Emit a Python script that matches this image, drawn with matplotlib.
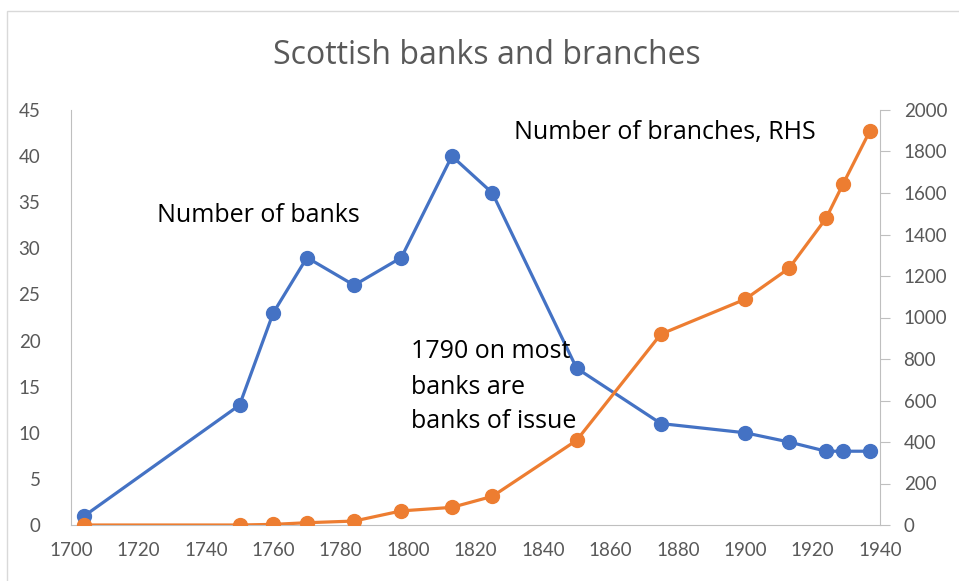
import matplotlib
matplotlib.use("Agg")
import matplotlib.pyplot as plt
from matplotlib.patches import Rectangle

plt.rcParams['font.family'] = ['Lato', 'DejaVu Sans']

years = [1704, 1750, 1760, 1770, 1784, 1798, 1813, 1825, 1850, 1875, 1900, 1913, 1924, 1929, 1937]
banks = [1, 13, 23, 29, 26, 29, 40, 36, 17, 11, 10, 9, 8, 8, 8]
branches = [0, 0, 3, 11, 19, 68, 85, 138, 408, 920, 1088, 1237, 1478, 1642, 1899]

blue = '#4472C4'
orange = '#ED7D31'
grey_txt = '#595959'
grey_ax = '#BFBFBF'

fig = plt.figure(figsize=(9.59, 5.81), dpi=100)
ax = fig.add_axes([71/959, 56/581, 809/959, 415/581])
ax2 = ax.twinx()

ax.plot(years, banks, color=blue, lw=2.3, marker='o', ms=10, zorder=3)
ax2.plot(years, branches, color=orange, lw=2.3, marker='o', ms=10, zorder=3)

ax.set_xlim(1700, 1940)
ax.set_ylim(0, 45)
ax2.set_ylim(0, 2000)
ax.set_xticks(range(1700, 1941, 20))
ax.set_yticks(range(0, 46, 5))
ax2.set_yticks(range(0, 2001, 200))

for a in (ax, ax2):
    for s in a.spines.values():
        s.set_visible(False)
ax.spines['left'].set_visible(True)
ax.spines['left'].set_color(grey_ax)
ax.spines['bottom'].set_visible(True)
ax.spines['bottom'].set_color(grey_ax)
ax2.spines['right'].set_visible(True)
ax2.spines['right'].set_color(grey_ax)

ax.tick_params(axis='x', length=0, pad=12, labelsize=13.5, labelcolor=grey_txt)
ax.tick_params(axis='y', length=0, pad=22, labelsize=13.5, labelcolor=grey_txt)
ax2.tick_params(axis='y', length=7, color=grey_ax, pad=10, labelsize=13.5, labelcolor=grey_txt)


# text placed in pixel coordinates from the top-left
def px_text(x, y, s):
    fig.text(x/959, 1 - y/581, s, fontsize=18, va='center', ha='left', color='black',
             family=['Open Sans', 'DejaVu Sans'])

px_text(157, 216, 'Number of banks')
px_text(514, 133, 'Number of branches, RHS')
px_text(411, 352, '1790 on most')
px_text(411, 387, 'banks are')
px_text(411, 422, 'banks of issue')

fig.text(487/959, 1 - 56/581, 'Scottish banks and branches', fontsize=23,
         color=grey_txt, ha='center', va='center', family=['Open Sans', 'DejaVu Sans'])

fig.patches.append(Rectangle((7/959, -0.1), 1.2, 1 - 11/581 + 0.1, transform=fig.transFigure,
                             fill=False, edgecolor='#D9D9D9', lw=1))

fig.savefig('out.png', dpi=100)
